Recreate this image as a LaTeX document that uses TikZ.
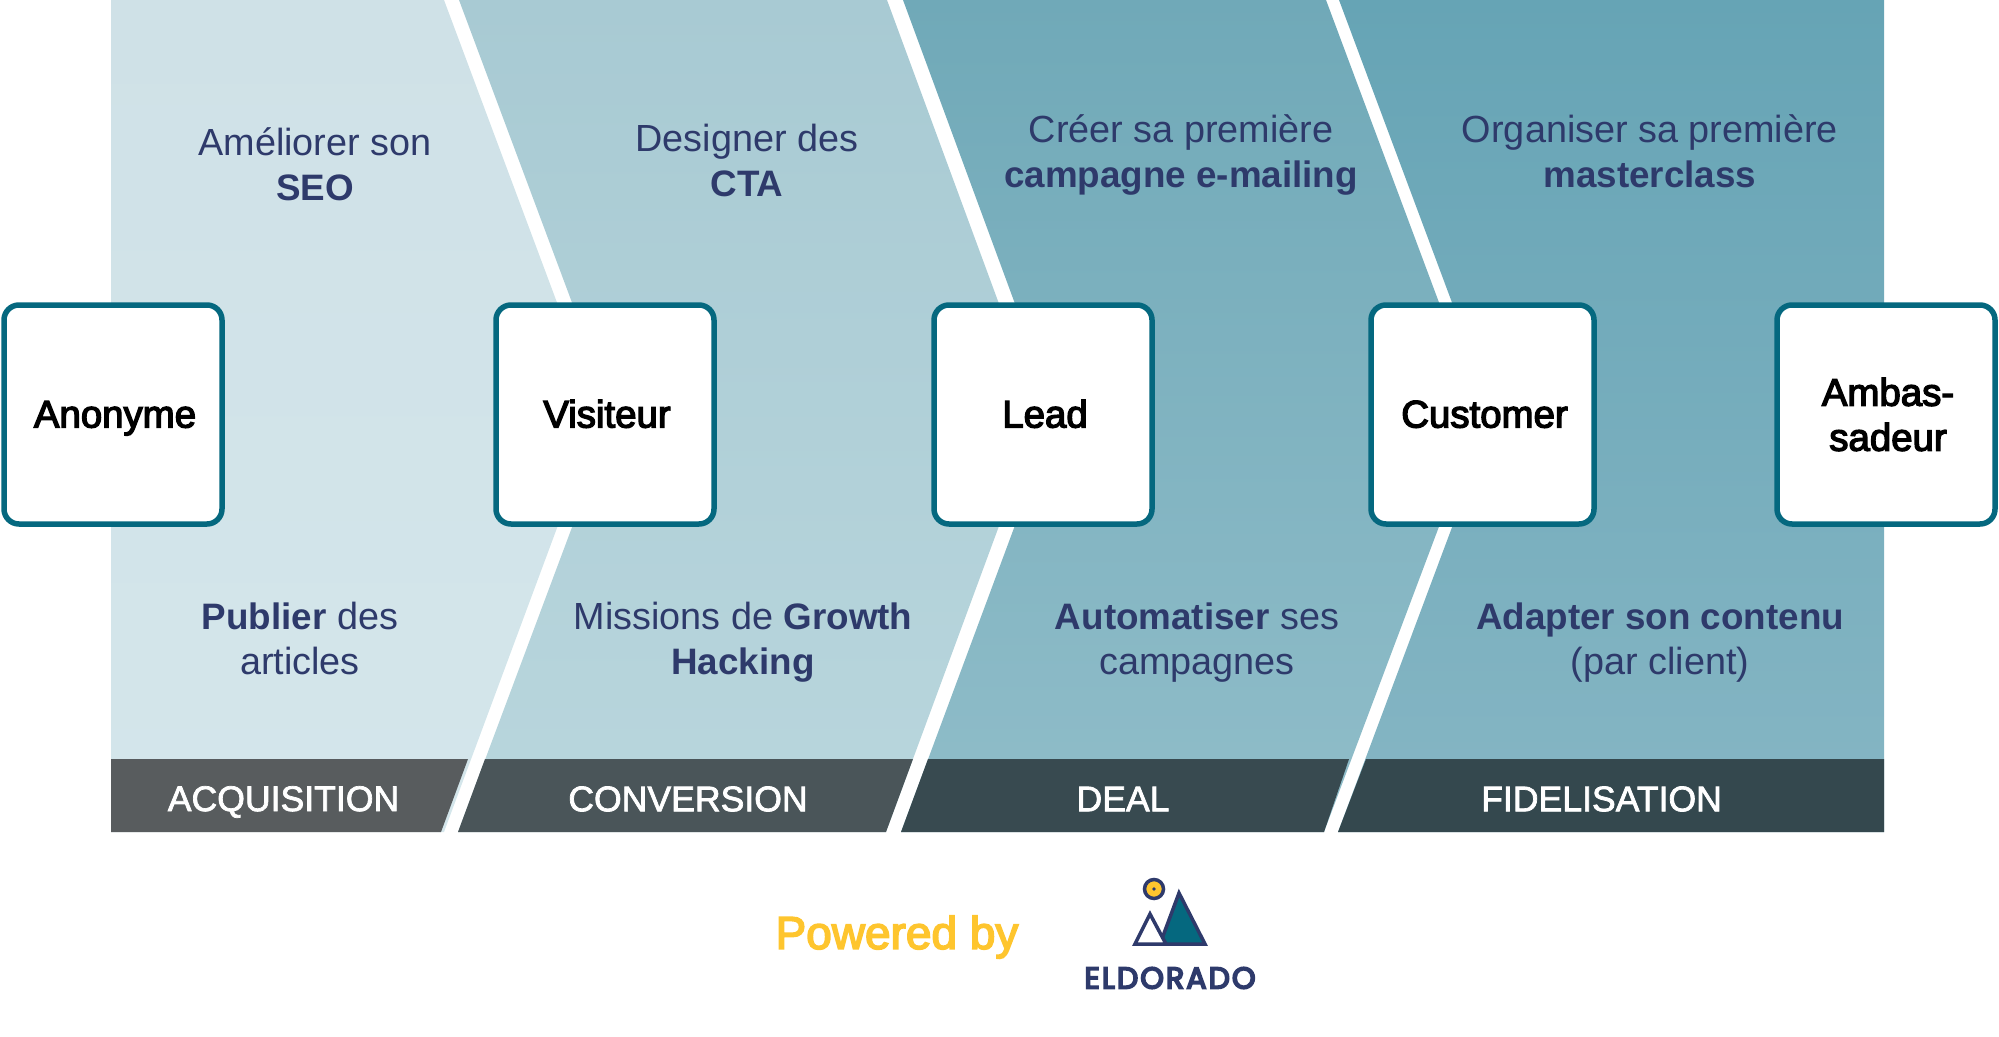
\documentclass[tikz,border=0pt]{standalone}
\usepackage{fontspec}
\setmainfont{Liberation Sans}
\newfontfamily\medfont[FakeBold=3.5]{Liberation Sans}
\newfontfamily\capsfont[FakeBold=2]{Liberation Sans}
\newfontfamily\logofont[LetterSpace=7,FakeBold=6]{Poppins}
\definecolor{navy}{HTML}{2E3A6B}
\definecolor{teal}{HTML}{05687F}
\definecolor{gold}{HTML}{FEC52E}
\newcommand{\keyword}[1]{{\bfseries\fontsize{36.8}{45}\selectfont #1}}
\newcommand{\boxlabel}[1]{\hspace*{4pt}\raisebox{-13pt}[0pt][0pt]{#1}}
\begin{document}
\begin{tikzpicture}[x=1pt, y=-1pt,
		task/.style={text=navy, align=center, font=\fontsize{37.8}{45}\selectfont},
		stage/.style={draw=teal, line width=5.5pt, fill=white, rounded corners=15pt, minimum width=218pt, minimum height=219pt, inner sep=0pt, align=center, font=\medfont\fontsize{38.4}{45}\selectfont},
		band/.style={text=white, font=\capsfont\fontsize{35.6}{40}\selectfont},
		peak/.style={draw=navy, line width=3.5pt, line join=miter}]
	\useasboundingbox (0, 0) rectangle (1999, 1036);
	
	\shade[top color={rgb,255:red,207;green,225;blue,231}, bottom color={rgb,255:red,212;green,230;blue,235}] (111, 0) -- (444, 0) -- (599, 415) -- (444, 832) -- (111, 832) -- cycle;
	\shade[top color={rgb,255:red,168;green,202;blue,211}, bottom color={rgb,255:red,185;green,214;blue,221}] (459, 0) -- (887, 0) -- (1040, 415) -- (886, 832) -- (458, 832) -- (614, 415) -- cycle;
	\shade[top color={rgb,255:red,112;green,169;blue,184}, bottom color={rgb,255:red,144;green,189;blue,201}] (903, 0) -- (1326, 0) -- (1481, 415) -- (1324, 832) -- (901, 832) -- (1056, 415) -- cycle;
	\shade[top color={rgb,255:red,102;green,164;blue,181}, bottom color={rgb,255:red,134;green,182;blue,196}] (1339, 0) -- (1884, 0) -- (1884, 832) -- (1338, 832) -- (1494, 415) -- cycle;
	
	\fill[fill={rgb,255:red,88;green,92;blue,94}] (111, 759) -- (468, 759) -- (441, 832) -- (111, 832) -- cycle;
	\fill[fill={rgb,255:red,74;green,85;blue,89}] (485, 759) -- (913, 759) -- (886, 832) -- (458, 832) -- cycle;
	\fill[fill={rgb,255:red,56;green,74;blue,80}] (928, 759) -- (1349, 759) -- (1324, 832) -- (901, 832) -- cycle;
	\fill[fill={rgb,255:red,52;green,72;blue,78}] (1366, 759) -- (1884, 759) -- (1884, 832) -- (1338, 832) -- cycle;
	
	\node[band] (acquisition) at (283.5, 802) {ACQUISITION};
	\node[band] (conversion) at (688, 799) {CONVERSION};
	\node[band] (deal) at (1123, 799) {DEAL};
	\node[band] (fidelisation) at (1601.5, 799) {FIDELISATION};
	
	\node[stage] (anonyme) at (113, 414.5) {\boxlabel{Anonyme}};
	\node[stage] (visiteur) at (605, 414.5) {\boxlabel{Visiteur}};
	\node[stage] (lead) at (1043, 414.5) {\boxlabel{Lead}};
	\node[stage, minimum width=223pt] (customer) at (1482.5, 414.5) {\boxlabel{Customer}};
	\node[stage] (ambas) at (1886, 414.5) {\hspace*{4pt}Ambas-\\\hspace*{4pt}sadeur};
	
	\node[task] (seo) at (315, 164) {Améliorer son\\\keyword{SEO}};
	\node[task] (cta) at (747, 160) {Designer des\\\keyword{CTA}};
	\node[task] (emailing) at (1181, 154.5) {Créer sa première\\\keyword{campagne e-mailing}};
	\node[task] (masterclass) at (1650, 151) {Organiser sa première\\\keyword{masterclass}};
	
	\node[task] (articles) at (300, 638) {\keyword{Publier} des\\articles};
	\node[task] (growth) at (743, 642) {Missions de \keyword{Growth}\\\keyword{Hacking}};
	\node[task] (automatiser) at (1197, 643) {\keyword{Automatiser} ses\\campagnes};
	\node[task] (contenu) at (1660, 643) {\keyword{Adapter son contenu}\\(par client)};
	
	\node[text=gold, font=\medfont\fontsize{46}{50}\selectfont] (powered) at (897, 937) {Powered by};
	
	\draw[peak, fill=teal] (1179, 893) -- (1205, 944) -- (1160, 944) -- cycle;
	\draw[peak, fill=white] (1150, 914) -- (1166, 944) -- (1135, 944) -- cycle;
	\draw[draw=navy, line width=3.5pt, fill=gold] (1154, 889) circle (9.5);
	\fill[navy] (1154, 889) circle (1.8);
	\node[text=navy, font=\logofont\fontsize{30}{30}\selectfont] (eldorado) at (1170, 978) {ELDORADO};
\end{tikzpicture}
\end{document}
